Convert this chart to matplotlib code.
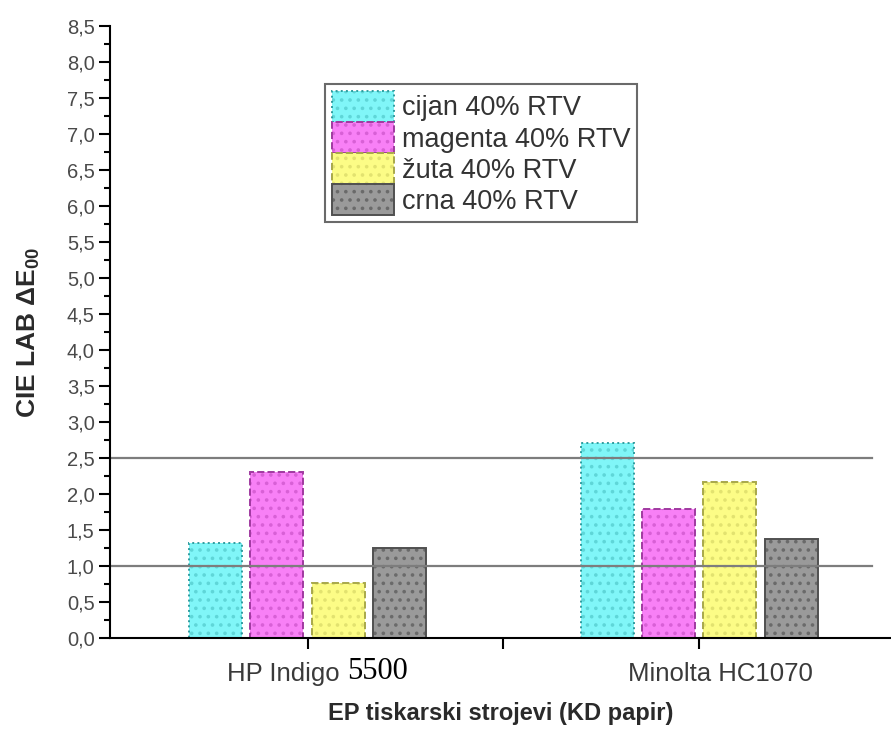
import matplotlib.pyplot as plt
from matplotlib.legend_handler import HandlerTuple
from matplotlib.ticker import MultipleLocator, FuncFormatter

# data
printers = ["HP Indigo ", "Minolta HC1070"]
series = ["cijan 40% RTV", "magenta 40% RTV", "žuta 40% RTV", "crna 40% RTV"]
cijan = [1.32, 2.71]
magenta = [2.31, 1.79]
zuta = [0.76, 2.16]
crna = [1.25, 1.37]
ref_lines = [1.0, 2.5]

faces = ["#80f6f8", "#f880f6", "#fcfc86", "#9a9a9a"]
dots = ["#5fd6d8", "#d860d6", "#e2e270", "#6a6a6a"]
edges = ["#2f9c9e", "#a03aa0", "#a8a84a", "#505050"]
styles = [":", "--", "--", "-"]

plt.rcParams["font.family"] = ["Liberation Sans", "DejaVu Sans"]
plt.rcParams["hatch.linewidth"] = 1.4


def main():
    fig = plt.figure(figsize=(8.91, 7.31), dpi=100)
    ax = fig.add_axes([110 / 891, 1 - 638 / 731, 781 / 891, 612 / 731])

    width = 0.135
    step = 0.1566
    handles = []
    for i, vals in enumerate([cijan, magenta, zuta, crna]):
        xs = [g + (i - 1.5) * step for g in range(len(printers))]
        b1 = ax.bar(xs, vals, width, color=faces[i], edgecolor=dots[i],
                    hatch="..", linewidth=0, zorder=2)
        b2 = ax.bar(xs, vals, width, fill=False, edgecolor=edges[i],
                    linestyle=styles[i], linewidth=1.4, zorder=3)
        handles.append((b1.patches[0], b2.patches[0]))

    for v in ref_lines:
        ax.axhline(v, xmin=0, xmax=762 / 781, color="#7d7d7d", lw=1.6, zorder=4)

    ax.set_xlim(-0.5045, 1.49)
    ax.set_ylim(0, 8.5)

    for s in ["top", "right"]:
        ax.spines[s].set_visible(False)
    for s in ["left", "bottom"]:
        ax.spines[s].set_linewidth(1.5)
        ax.spines[s].set_zorder(5)

    ax.yaxis.set_major_locator(MultipleLocator(0.5))
    ax.yaxis.set_minor_locator(MultipleLocator(0.25))
    ax.yaxis.set_major_formatter(FuncFormatter(lambda v, p: f"{v:.1f}".replace(".", ",")))
    ax.tick_params(axis="y", which="major", length=8, width=1.5, labelsize=14.5,
                   labelcolor="#4a4a4a", pad=3)
    ax.tick_params(axis="y", which="minor", length=4, width=1.5)

    ax.set_xticks([0, 1])
    ax.set_xticks([0.5], minor=True)
    ax.set_xticklabels([])
    ax.tick_params(axis="x", which="both", length=8, width=1.5)

    # category labels ("5500" is set in a serif face in the original)
    t1 = ax.text(-0.2055, -0.04, printers[0], transform=ax.get_xaxis_transform(),
                 ha="left", va="top", fontsize=18.5, color="#3a3a3a")
    ax.annotate("5500", xy=(1, 0), xycoords=t1, va="bottom", ha="left",
                fontsize=22, family="Liberation Serif", color="black")
    ax.text(1.054, -0.04, printers[1], transform=ax.get_xaxis_transform(),
            ha="center", va="top", fontsize=18.5, color="#3a3a3a")

    ax.text(0.5, -0.105, "EP tiskarski strojevi (KD papir)", transform=ax.transAxes,
            ha="center", va="top", fontsize=17, fontweight="bold", color="#2a2a2a")
    ax.set_ylabel("CIE LAB ΔE$_{\\mathregular{00}}$", fontsize=19, fontweight="bold",
                  color="#2a2a2a", labelpad=18)

    leg = ax.legend(handles, series, handler_map={tuple: HandlerTuple(ndivide=1)},
                    loc="upper left", bbox_to_anchor=(0.275, 0.905), fontsize=19.5,
                    handlelength=2.3, handleheight=1.39, labelspacing=0,
                    handletextpad=0.3, borderpad=0.25, borderaxespad=0,
                    fancybox=False, framealpha=1, edgecolor="#6a6a6a")
    leg.get_frame().set_linewidth(1.5)
    for t in leg.get_texts():
        t.set_color("#333333")

    fig.savefig("out.png", dpi=100)


if __name__ == "__main__":
    main()
